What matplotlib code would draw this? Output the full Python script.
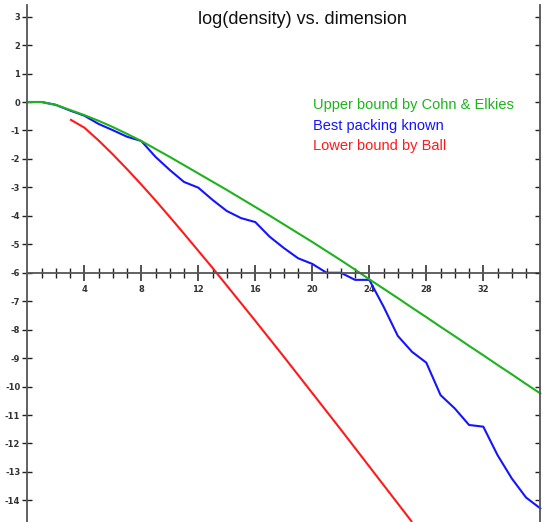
import matplotlib
matplotlib.use("Agg")
import matplotlib.pyplot as plt
from matplotlib.ticker import FixedLocator, NullFormatter

# ---- data (natural log of density vs dimension) ----
dims_upper = list(range(0, 37))
upper_cohn_elkies = [0.0, 0.0, -0.10, -0.28, -0.46, -0.66, -0.88, -1.12, -1.37,
                     -1.65, -1.93, -2.22, -2.51, -2.80, -3.09, -3.39, -3.69,
                     -3.99, -4.30, -4.61, -4.92, -5.24, -5.56, -5.89, -6.23,
                     -6.56, -6.89, -7.23, -7.56, -7.90, -8.23, -8.57, -8.90,
                     -9.24, -9.57, -9.91, -10.24]

dims_best = list(range(0, 37))
best_known = [0.0, 0.0, -0.10, -0.30, -0.48, -0.77, -0.99, -1.22, -1.37,
              -1.93, -2.39, -2.81, -3.01, -3.44, -3.83, -4.08, -4.22,
              -4.73, -5.13, -5.49, -5.69, -6.00, -6.00, -6.25, -6.25,
              -7.19, -8.22, -8.78, -9.16, -10.30, -10.77, -11.35, -11.41,
              -12.41, -13.23, -13.90, -14.28]

dims_ball = list(range(3, 28))
lower_ball = [-0.61, -0.90, -1.35, -1.84, -2.36, -2.90, -3.46, -4.04, -4.63,
              -5.23, -5.83, -6.45, -7.07, -7.69, -8.32, -8.95, -9.59, -10.23,
              -10.87, -11.51, -12.16, -12.81, -13.46, -14.11, -14.76]

x_major = [4, 8, 12, 16, 20, 24, 28, 32]
x_minor = [i for i in range(1, 36) if i % 4 != 0]
y_ticks = list(range(-14, 4))

title = "log(density) vs. dimension"
legend_labels = ["Upper bound by Cohn & Elkies", "Best packing known", "Lower bound by Ball"]
colors = ["#1db31d", "#1414ff", "#ff1a1a"]

# ---- figure ----
W, H, DPI = 543, 522, 100
fig = plt.figure(figsize=(W / DPI, H / DPI), dpi=DPI)
ax = fig.add_axes([0, 0, 1, 1])
ax.set_xlim(-1.916, 36.19)
ax.set_ylim(-14.76, 3.585)

axis_color = "#555555"
ax.spines["top"].set_visible(False)
ax.spines["left"].set_position(("data", 0))
ax.spines["bottom"].set_position(("data", -6))
ax.spines["right"].set_visible(False)
ax.spines["left"].set_bounds(-14.76, 3.42)
ax.spines["bottom"].set_bounds(0, 36)
for s in ["left", "bottom"]:
    ax.spines[s].set_color(axis_color)
    ax.spines[s].set_linewidth(1.3)

ax.xaxis.set_major_locator(FixedLocator(x_major))
ax.xaxis.set_minor_locator(FixedLocator(x_minor))
ax.xaxis.set_minor_formatter(NullFormatter())
ax.set_xticklabels([str(v) for v in x_major])
ax.tick_params(axis="x", which="major", direction="inout", length=11, width=1.1,
               color="#222222", pad=3.0, labelsize=6, labelcolor="#333333")
ax.tick_params(axis="x", which="minor", direction="inout", length=6.5, width=1.0,
               color="#222222")
for lab in ax.get_xticklabels():
    lab.set_fontweight("bold")

ax.yaxis.set_major_locator(FixedLocator(y_ticks))
ax.set_yticklabels([str(v) for v in y_ticks])
ax.tick_params(axis="y", which="major", direction="inout", length=7.5, width=1.0,
               color="#222222", pad=1.3, labelsize=6, labelcolor="#333333",
               left=True, right=False)
for lab in ax.get_yticklabels():
    lab.set_fontweight("bold")

# right-hand axis at x = 36
ax2 = ax.twinx()
ax2.set_ylim(ax.get_ylim())
for s in ["top", "left", "bottom"]:
    ax2.spines[s].set_visible(False)
ax2.spines["right"].set_position(("data", 36))
ax2.spines["right"].set_bounds(-14.76, 3.42)
ax2.spines["right"].set_color(axis_color)
ax2.spines["right"].set_linewidth(1.3)
ax2.yaxis.set_major_locator(FixedLocator(y_ticks))
ax2.tick_params(axis="y", direction="in", length=3.8, width=1.0, color="#222222",
                labelright=False)
ax2.patch.set_visible(False)

# ---- curves ----
ax.plot(dims_ball, lower_ball, color=colors[2], lw=1.5, solid_capstyle="butt")
ax.plot(dims_best, best_known, color=colors[1], lw=1.5, solid_joinstyle="round")
ax.plot(dims_upper, upper_cohn_elkies, color=colors[0], lw=1.5)

# ---- title and legend text ----
ax.text(19.28, 2.9, title, ha="center", va="center", fontsize=13,
        family="Liberation Sans", color="#111111")
legend_y = [-0.10, -0.84, -1.55]
for lbl, c, yy in zip(legend_labels, colors, legend_y):
    ax.text(20.05, yy, lbl, ha="left", va="center", fontsize=10.5,
            family="Liberation Sans", color=c)

fig.savefig("out.png", dpi=DPI)
